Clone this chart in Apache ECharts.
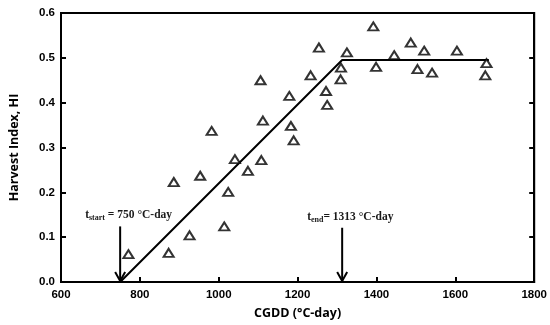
<!DOCTYPE html>
<html>
<head>
<meta charset="utf-8">
<script src="https://cdn.jsdelivr.net/npm/echarts@6/dist/echarts.min.js"></script>
<style>html,body{margin:0;padding:0;background:#fff}#c{width:550px;height:325px}</style>
</head>
<body>
<div id="c"></div>
<script>
// Observed data: CGDD (°C-day) vs Harvest Index
const hiX = [982, 1106, 1112, 1392, 1254, 1325, 1487, 1521, 1604, 1445, 1679, 1676, 1310, 1399, 1504, 1541, 1309, 1233, 1272, 1275, 1179, 1183, 1190, 1041, 1108, 1074, 953, 886, 1024, 1014, 926, 873, 771];
const hiY = [0.337, 0.450, 0.360, 0.570, 0.523, 0.512, 0.534, 0.516, 0.516, 0.506, 0.488, 0.461, 0.478, 0.480, 0.475, 0.467, 0.452, 0.461, 0.426, 0.395, 0.415, 0.348, 0.316, 0.274, 0.272, 0.248, 0.237, 0.223, 0.201, 0.124, 0.104, 0.065, 0.062];
// Fitted piecewise-linear model
const fitX = [750, 1313, 1685];
const fitY = [0, 0.495, 0.495];
// Arrow annotations
const arrowX = [750, 1313];
const arrowTop = [0.124, 0.121];
const arrowName = ['start', 'end'];
const arrowText = [' = 750 °C-day', '= 1313 °C-day'];
// Axis ticks
const xTicks = [600, 800, 1000, 1200, 1400, 1600, 1800];
const yTicks = [0.0, 0.1, 0.2, 0.3, 0.4, 0.5, 0.6];

const chart = echarts.init(document.getElementById('c'), null, {renderer: 'canvas'});
const tickFont = {fontFamily: 'Liberation Sans', fontWeight: 'bold', fontSize: 11.5, color: '#000'};
const option = {
  animation: false,
  backgroundColor: '#fff',
  grid: {left: 58, right: 14, top: 13, bottom: 43, show: true, borderColor: '#000', borderWidth: 2, backgroundColor: 'transparent'},
  xAxis: {
    type: 'value', min: xTicks[0], max: xTicks[xTicks.length - 1], interval: 200,
    name: 'CGDD (°C-day)', nameLocation: 'middle', nameGap: 25,
    nameTextStyle: {fontFamily: 'Open Sans', fontWeight: 'bold', fontSize: 12.5, color: '#000'},
    axisLine: {lineStyle: {color: '#000', width: 2}},
    axisTick: {inside: true, length: 5, lineStyle: {color: '#000', width: 2}},
    axisLabel: Object.assign({margin: 7, formatter: v => String(v)}, tickFont),
    splitLine: {show: false}
  },
  yAxis: [{
    type: 'value', min: yTicks[0], max: yTicks[yTicks.length - 1], interval: 0.1,
    name: 'Harvest Index, HI', nameLocation: 'middle', nameGap: 40,
    nameTextStyle: {fontFamily: 'Open Sans', fontWeight: 'bold', fontSize: 12.5, color: '#000'},
    axisLine: {lineStyle: {color: '#000', width: 2}},
    axisTick: {inside: true, length: 5, lineStyle: {color: '#000', width: 2}},
    axisLabel: Object.assign({margin: 6, formatter: v => v.toFixed(1)}, tickFont),
    splitLine: {show: false}
  }, {
    type: 'value', position: 'right', min: yTicks[0], max: yTicks[yTicks.length - 1], interval: 0.1,
    axisLine: {show: true, lineStyle: {color: '#000', width: 2}},
    axisTick: {show: true, inside: true, length: 5, lineStyle: {color: '#000', width: 2}},
    axisLabel: {show: false},
    splitLine: {show: false}
  }],
  series: [{
    type: 'line',
    data: fitX.map((x, i) => [x, fitY[i]]),
    symbol: 'none',
    lineStyle: {color: '#000', width: 2},
    z: 2
  }, {
    type: 'scatter',
    data: hiX.map((x, i) => [x, hiY[i]]),
    symbol: 'triangle',
    symbolSize: [10, 8],
    itemStyle: {color: '#fff', borderColor: '#000', borderWidth: 2},
    z: 3
  }, {
    type: 'custom',
    data: arrowX.map((x, i) => [x, arrowTop[i], i]),
    renderItem: function (params, api) {
      const x = api.value(0);
      const i = api.value(2);
      const p0 = api.coord([x, api.value(1)]);
      const p1 = api.coord([x, 0]);
      return {
        type: 'group',
        children: [{
          type: 'line',
          shape: {x1: p0[0], y1: p0[1], x2: p1[0], y2: p1[1] - 1},
          style: {stroke: '#000', lineWidth: 2}
        }, {
          type: 'polyline',
          shape: {points: [[p1[0] - 5, p1[1] - 10], [p1[0], p1[1] - 1], [p1[0] + 5, p1[1] - 10]]},
          style: {stroke: '#000', fill: null, lineWidth: 2}
        }, {
          type: 'text',
          style: {
            text: '{t|t}{s|' + arrowName[i] + '}{t|' + arrowText[i] + '}',
            x: p0[0] - 35, y: p0[1] - 11,
            align: 'left', verticalAlign: 'middle',
            rich: {
              t: {fontFamily: 'Liberation Serif', fontWeight: 'bold', fontSize: 11.5, fill: '#1a1a1a'},
              s: {fontFamily: 'Liberation Serif', fontWeight: 'bold', fontSize: 8, fill: '#1a1a1a', padding: [6, 0, 0, 0]}
            }
          }
        }]
      };
    },
    z: 4
  }]
};
chart.setOption(option);
</script>
</body>
</html>
